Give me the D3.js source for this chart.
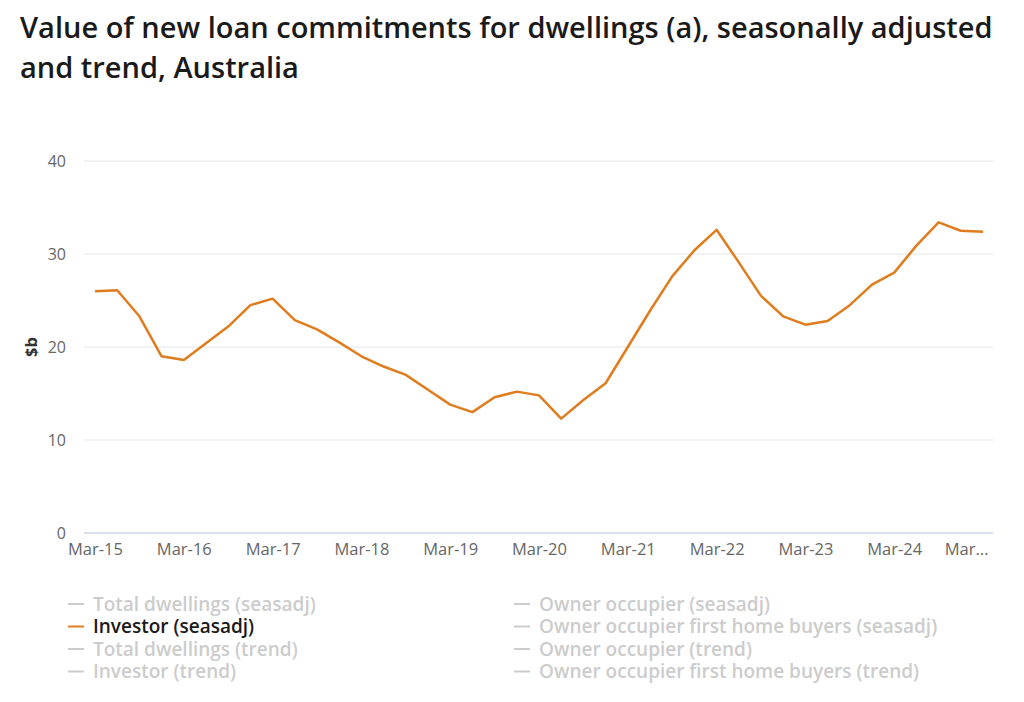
<!DOCTYPE html>
<html>
<head>
<meta charset="utf-8">
<script src="https://cdn.jsdelivr.net/npm/d3@7"></script>
<style>
  body { margin: 0; background: #fff; font-family: "Open Sans", sans-serif; }
</style>
</head>
<body>
<div id="chart"></div>
<script>
// chart data
var quarters = ["Mar-15","Jun-15","Sep-15","Dec-15","Mar-16","Jun-16","Sep-16","Dec-16",
  "Mar-17","Jun-17","Sep-17","Dec-17","Mar-18","Jun-18","Sep-18","Dec-18",
  "Mar-19","Jun-19","Sep-19","Dec-19","Mar-20","Jun-20","Sep-20","Dec-20",
  "Mar-21","Jun-21","Sep-21","Dec-21","Mar-22","Jun-22","Sep-22","Dec-22",
  "Mar-23","Jun-23","Sep-23","Dec-23","Mar-24","Jun-24","Sep-24","Dec-24","Mar-25"];
var investor = [26.0, 26.1, 23.3, 19.0, 18.6, 20.4, 22.2, 24.5,
  25.2, 22.9, 21.9, 20.5, 19.0, 17.9, 17.0, 15.4,
  13.8, 13.0, 14.6, 15.2, 14.8, 12.3, 14.3, 16.1,
  20.0, 23.9, 27.6, 30.4, 32.6, 29.1, 25.5, 23.3,
  22.4, 22.8, 24.5, 26.7, 28.0, 30.9, 33.4, 32.5, 32.4];
var yTicks = [0, 10, 20, 30, 40];
var legendLeft = ["Total dwellings (seasadj)", "Investor (seasadj)", "Total dwellings (trend)", "Investor (trend)"];
var legendRight = ["Owner occupier (seasadj)", "Owner occupier first home buyers (seasadj)", "Owner occupier (trend)", "Owner occupier first home buyers (trend)"];
var activeSeries = "Investor (seasadj)";

var svgWidth = 1024;
var svgHeight = 702;
var lineColor = "#df7c1e";

var svg = d3.select("#chart").append("svg")
  .attr("width", svgWidth)
  .attr("height", svgHeight);

// title
var title = svg.append("text")
  .attr("x", 20)
  .attr("y", 38)
  .style("font-size", "29px")
  .style("font-weight", 600)
  .attr("fill", "#1a1a1a");
title.append("tspan").attr("x", 20).text("Value of new loan commitments for dwellings (a), seasonally adjusted");
title.append("tspan").attr("x", 20).attr("dy", 40).text("and trend, Australia");

// scales
var xScale = d3.scalePoint()
  .domain(quarters)
  .range([95, 983]);

var yScale = d3.scaleLinear()
  .domain([0, 40])
  .range([533, 161]);

// gridlines
svg.append("g").selectAll("line")
  .data(yTicks.filter(d => d > 0))
  .enter()
  .append("line")
  .attr("x1", 84)
  .attr("x2", 993)
  .attr("y1", d => yScale(d))
  .attr("y2", d => yScale(d))
  .attr("stroke", "#e6e6e6")
  .attr("stroke-width", 1);

// baseline
svg.append("line")
  .attr("x1", 84)
  .attr("x2", 993)
  .attr("y1", yScale(0))
  .attr("y2", yScale(0))
  .attr("stroke", "#ccd6eb")
  .attr("stroke-width", 1.5);

// y axis labels
var yAxis = d3.axisLeft(yScale).tickValues(yTicks).tickSize(0).tickPadding(0);
var yG = svg.append("g")
  .attr("transform", "translate(66, 0)")
  .call(yAxis);
yG.select(".domain").remove();
yG.selectAll("text")
  .style("font-family", "Open Sans")
  .style("font-size", "16px")
  .attr("fill", "#666666");

// x axis labels, one per year
var yearTicks = quarters.filter(q => q.startsWith("Mar"));
var xAxis = d3.axisBottom(xScale)
  .tickValues(yearTicks)
  .tickSize(0)
  .tickPadding(0)
  .tickFormat(d => d === "Mar-25" ? "Mar..." : d);
var xG = svg.append("g")
  .attr("transform", "translate(0, 540)")
  .call(xAxis);
xG.select(".domain").remove();
xG.selectAll("text")
  .style("font-family", "Open Sans")
  .style("font-size", "16.5px")
  .attr("fill", "#666666")
  .attr("dy", "0.9em");
xG.selectAll(".tick").filter(d => d === "Mar-25").select("text")
  .attr("text-anchor", "end")
  .attr("x", 5);

// y axis title
svg.append("text")
  .attr("transform", "translate(37, 347) rotate(-90)")
  .attr("text-anchor", "middle")
  .style("font-size", "16.5px")
  .style("font-weight", 700)
  .attr("fill", "#333333")
  .text("$b");

// line
var line = d3.line()
  .x((d, i) => xScale(quarters[i]))
  .y(d => yScale(d));

svg.append("path")
  .datum(investor)
  .attr("d", line)
  .attr("fill", "none")
  .attr("stroke", lineColor)
  .attr("stroke-width", 2.5)
  .attr("stroke-linejoin", "round");

// legend
function drawLegend(items, x0) {
  var g = svg.append("g");
  var rows = g.selectAll("g")
    .data(items)
    .enter()
    .append("g")
    .attr("transform", (d, i) => `translate(${x0}, ${604 + i * 22.5})`);
  rows.append("line")
    .attr("x1", 0)
    .attr("x2", 16)
    .attr("y1", 0)
    .attr("y2", 0)
    .attr("stroke", d => d === activeSeries ? lineColor : "#cccccc")
    .attr("stroke-width", 2);
  rows.append("text")
    .attr("x", 25)
    .attr("y", 6.5)
    .style("font-size", "19px")
    .style("font-weight", 600)
    .attr("fill", d => d === activeSeries ? "#1a1a1a" : "#cccccc")
    .text(d => d);
}
drawLegend(legendLeft, 68);
drawLegend(legendRight, 514);
</script>
</body>
</html>
